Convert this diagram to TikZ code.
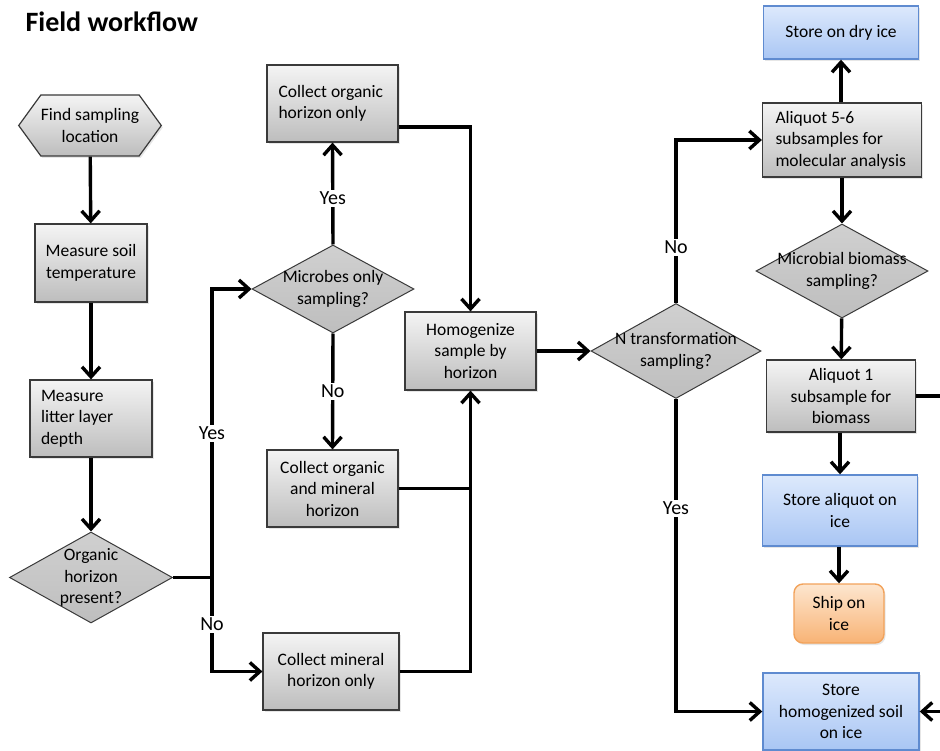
\documentclass[tikz,border=0pt]{standalone}
\usepackage{fontspec}
\setmainfont{Carlito}
\usetikzlibrary{shapes.geometric,shapes.symbols,shadows,arrows.meta}

\definecolor{boxtop}{HTML}{F4F4F4}
\definecolor{boxbot}{HTML}{BDBDBD}
\definecolor{diatop}{HTML}{D0D0D0}
\definecolor{diabot}{HTML}{BEBEBE}
\definecolor{icetop}{HTML}{DDE9FC}
\definecolor{icebot}{HTML}{A9C6F4}
\definecolor{iceline}{HTML}{5F8BD0}
\definecolor{shiptop}{HTML}{FDE6CF}
\definecolor{shipbot}{HTML}{F8B375}
\definecolor{shipline}{HTML}{F2A25A}
\definecolor{edge}{HTML}{3A3A3A}

\tikzset{
  txt/.style={font=\fontsize{17.5}{21.5}\selectfont, align=center},
  shade/.style={drop shadow={shadow xshift=1.5pt, shadow yshift=-2pt, opacity=.2}},
  process/.style={txt, rectangle, draw=edge, line width=1.2pt, inner sep=0pt,
    top color=boxtop, bottom color=boxbot, shade},
  startbox/.style={process, signal, signal to=west and east, signal pointer angle=108},
  decision/.style={diamond, draw=edge, line width=1pt, inner sep=0pt,
    top color=diatop, bottom color=diabot},
  dtext/.style={txt},
  store/.style={txt, rectangle, draw=iceline, line width=1.4pt, inner sep=0pt,
    top color=icetop, bottom color=icebot, shade},
  ship/.style={txt, rectangle, rounded corners=9pt, draw=shipline, line width=1.4pt,
    inner sep=0pt, top color=shiptop, bottom color=shipbot, shade},
  line/.style={line width=3.4pt, line join=miter},
  arr/.style={line, -{Straight Barb[length=10pt,width=18pt]}},
  lbl/.style={font=\fontsize{20}{24}\selectfont, fill=white, inner sep=2pt}
}

\begin{document}
\begin{tikzpicture}[x=1pt,y=-1pt]
\useasboundingbox (0,0) rectangle (940,751);

\node[anchor=base west, font=\fontsize{28}{34}\selectfont\bfseries] (title) at (22,32) {Field workflow};

% left column
\node[startbox, minimum width=134, minimum height=61] (find)   at (90,125.5) {Find sampling\\location};
\node[process,  minimum width=112, minimum height=78] (soil)   at (91,263)   {Measure soil\\temperature};
\node[process,  minimum width=122, minimum height=77, text width=100, align=flush left] (litter) at (91,418.5) {Measure\\litter layer\\depth};
\node[decision, minimum width=163, minimum height=91,
      label={[dtext]center:Organic\\horizon\\present?}] (organic) at (91,577.5) {};

% middle column
\node[process,  minimum width=131, minimum height=77, text width=108, align=flush left] (orgonly) at (332.5,103.5) {Collect organic\\horizon only};
\node[decision, minimum width=162, minimum height=88,
      label={[dtext]center:Microbes only\\sampling?}] (microbes) at (333,289) {};
\node[process,  minimum width=131, minimum height=77] (orgmin)  at (332.5,488.5) {Collect organic\\and mineral\\horizon};
\node[process,  minimum width=136, minimum height=77] (mineral) at (331,671.5)   {Collect mineral\\horizon only};
\node[process,  minimum width=131, minimum height=78] (homog)   at (470.5,351)   {Homogenize\\sample by\\horizon};
\node[decision, minimum width=170, minimum height=95,
      label={[dtext]center:N transformation\\sampling?}] (ntrans) at (676,351) {};

% right column
\node[store,    minimum width=155, minimum height=53] (dryice)    at (841,32.5)  {Store on dry ice};
\node[process,  minimum width=159, minimum height=74, text width=133, align=flush left] (ali56) at (842,140) {Aliquot 5-6\\subsamples for\\molecular analysis};
\node[decision, minimum width=172, minimum height=94,
      label={[dtext]center:Microbial biomass\\sampling?}] (microbial) at (842,271) {};
\node[process,  minimum width=149, minimum height=72] (ali1)      at (841,396)   {Aliquot 1\\subsample for\\biomass};
\node[store,    minimum width=155, minimum height=71] (storealiq) at (840,510.5) {Store aliquot on\\ice};
\node[ship,     minimum width=90,  minimum height=59] (shipice)   at (839,613.5) {Ship on\\ice};
\node[store,    minimum width=156, minimum height=77] (storesoil) at (841,711.5) {Store\\homogenized soil\\on ice};

% connectors
\draw[arr] (find) -- (soil);
\draw[arr] (soil) -- (litter);
\draw[arr] (litter) -- (organic);
\draw[arr] (organic.east) -- ++(39,0) |- node[lbl,pos=0.25] {Yes} (microbes.west);
\draw[arr] (organic.east) -- ++(39,0) |- node[lbl,pos=0.25] {No} (mineral.west);
\draw[arr] (microbes.north) -- node[lbl,pos=0.45] {Yes} (orgonly.south);
\draw[arr] (microbes.south) -- node[lbl] {No} (orgmin.north);
\draw[arr] ([yshift=-23.5pt]orgonly.east) -| (homog.north);
\draw[arr] (mineral.east) -| (homog.south);
\draw[line] (orgmin.east) -- (orgmin.east -| homog.south);
\draw[arr] (homog.east) -- (ntrans.west);
\draw[arr] (ntrans.north) |- node[lbl,pos=0.17] {No} (ali56.west);
\draw[arr] (ntrans.south) |- node[lbl,pos=0.175] {Yes} (storesoil.west);
\draw[arr] (ali56.north -| dryice.south) -- (dryice.south);
\draw[arr] (ali56) -- (microbial);
\draw[arr] (microbial) -- (ali1);
\draw[arr] (ali1.south -| storealiq.north) -- (storealiq.north);
\draw[arr] (storealiq.south -| shipice.north) -- (shipice.north);
\draw[arr] (ali1.east) -- ++(40,0) |- (storesoil.east);
\end{tikzpicture}
\end{document}
